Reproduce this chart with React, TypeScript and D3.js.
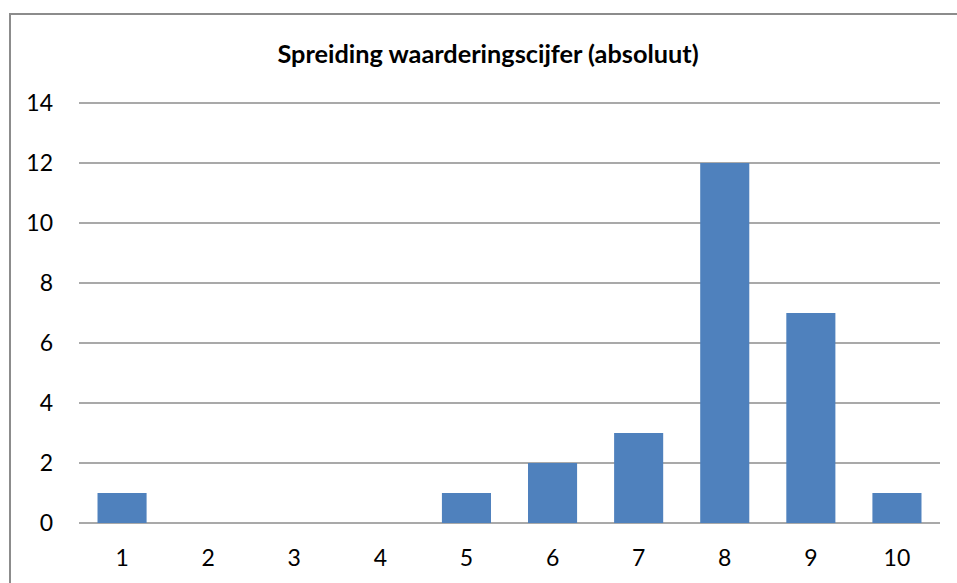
import { useEffect, useRef } from "react";
import * as d3 from "d3";

const categorieen = ["1", "2", "3", "4", "5", "6", "7", "8", "9", "10"];
const aantallen = [1, 0, 0, 0, 1, 2, 3, 12, 7, 1];
const yTicks = [0, 2, 4, 6, 8, 10, 12, 14];
const titel = "Spreiding waarderingscijfer (absoluut)";

export default function App() {
  const svgRef = useRef<SVGSVGElement>(null);
  const ANCHO = 957;
  const ALTO = 583;

  useEffect(() => {
    if (!svgRef.current) return;
    const svg = d3.select(svgRef.current);
    svg.selectAll("*").remove();

    const fuente = "Lato, 'Open Sans', sans-serif";

    svg.append("rect").attr("width", ANCHO).attr("height", ALTO).attr("fill", "#fff");

    // Kader rond de grafiek (loopt rechts en onder buiten beeld)
    svg
      .append("rect")
      .attr("x", 10)
      .attr("y", 14)
      .attr("width", ANCHO + 20)
      .attr("height", ALTO + 20)
      .attr("fill", "none")
      .attr("stroke", "#8c8c8c")
      .attr("stroke-width", 2);

    const margen = { top: 103, right: 17, bottom: 60, left: 79 };
    const anchoInterno = ANCHO - margen.left - margen.right;
    const altoInterno = ALTO - margen.top - margen.bottom;

    const g = svg.append("g").attr("transform", `translate(${margen.left},${margen.top})`);

    const x = d3.scaleBand().domain(categorieen).range([0, anchoInterno]).paddingInner(0.43).paddingOuter(0.215);
    const y = d3.scaleLinear().domain([0, 14]).range([altoInterno, 0]);

    g.selectAll("line.grid")
      .data(yTicks)
      .enter()
      .append("line")
      .attr("class", "grid")
      .attr("x1", 0)
      .attr("x2", anchoInterno)
      .attr("y1", (d) => y(d))
      .attr("y2", (d) => y(d))
      .attr("stroke", "#8c8c8c")
      .attr("stroke-width", 1.5);

    g.selectAll("rect.bar")
      .data(aantallen)
      .enter()
      .append("rect")
      .attr("class", "bar")
      .attr("x", (_, i) => x(categorieen[i]) || 0)
      .attr("width", x.bandwidth())
      .attr("y", (d) => y(d))
      .attr("height", (d) => altoInterno - y(d))
      .attr("fill", "#4f81bd");

    g.selectAll("text.ylab")
      .data(yTicks)
      .enter()
      .append("text")
      .attr("class", "ylab")
      .attr("x", -26)
      .attr("y", (d) => y(d))
      .attr("dy", "0.35em")
      .attr("text-anchor", "end")
      .attr("fill", "#000")
      .attr("font-family", fuente)
      .attr("font-size", 23)
      .text((d) => String(d));

    g.selectAll("text.xlab")
      .data(categorieen)
      .enter()
      .append("text")
      .attr("class", "xlab")
      .attr("x", (d) => (x(d) || 0) + x.bandwidth() / 2)
      .attr("y", altoInterno + 35)
      .attr("dy", "0.35em")
      .attr("text-anchor", "middle")
      .attr("fill", "#000")
      .attr("font-family", fuente)
      .attr("font-size", 23)
      .text((d) => d);

    svg
      .append("text")
      .attr("x", 488)
      .attr("y", 54)
      .attr("dy", "0.35em")
      .attr("text-anchor", "middle")
      .attr("fill", "#000")
      .attr("font-family", fuente)
      .attr("font-weight", 700)
      .attr("font-size", 25.3)
      .text(titel);
  }, []);

  return (
    <svg
      ref={svgRef}
      width={ANCHO}
      height={ALTO}
      viewBox={`0 0 ${ANCHO} ${ALTO}`}
      style={{ position: "absolute", left: 0, top: 0, display: "block" }}
    />
  );
}
